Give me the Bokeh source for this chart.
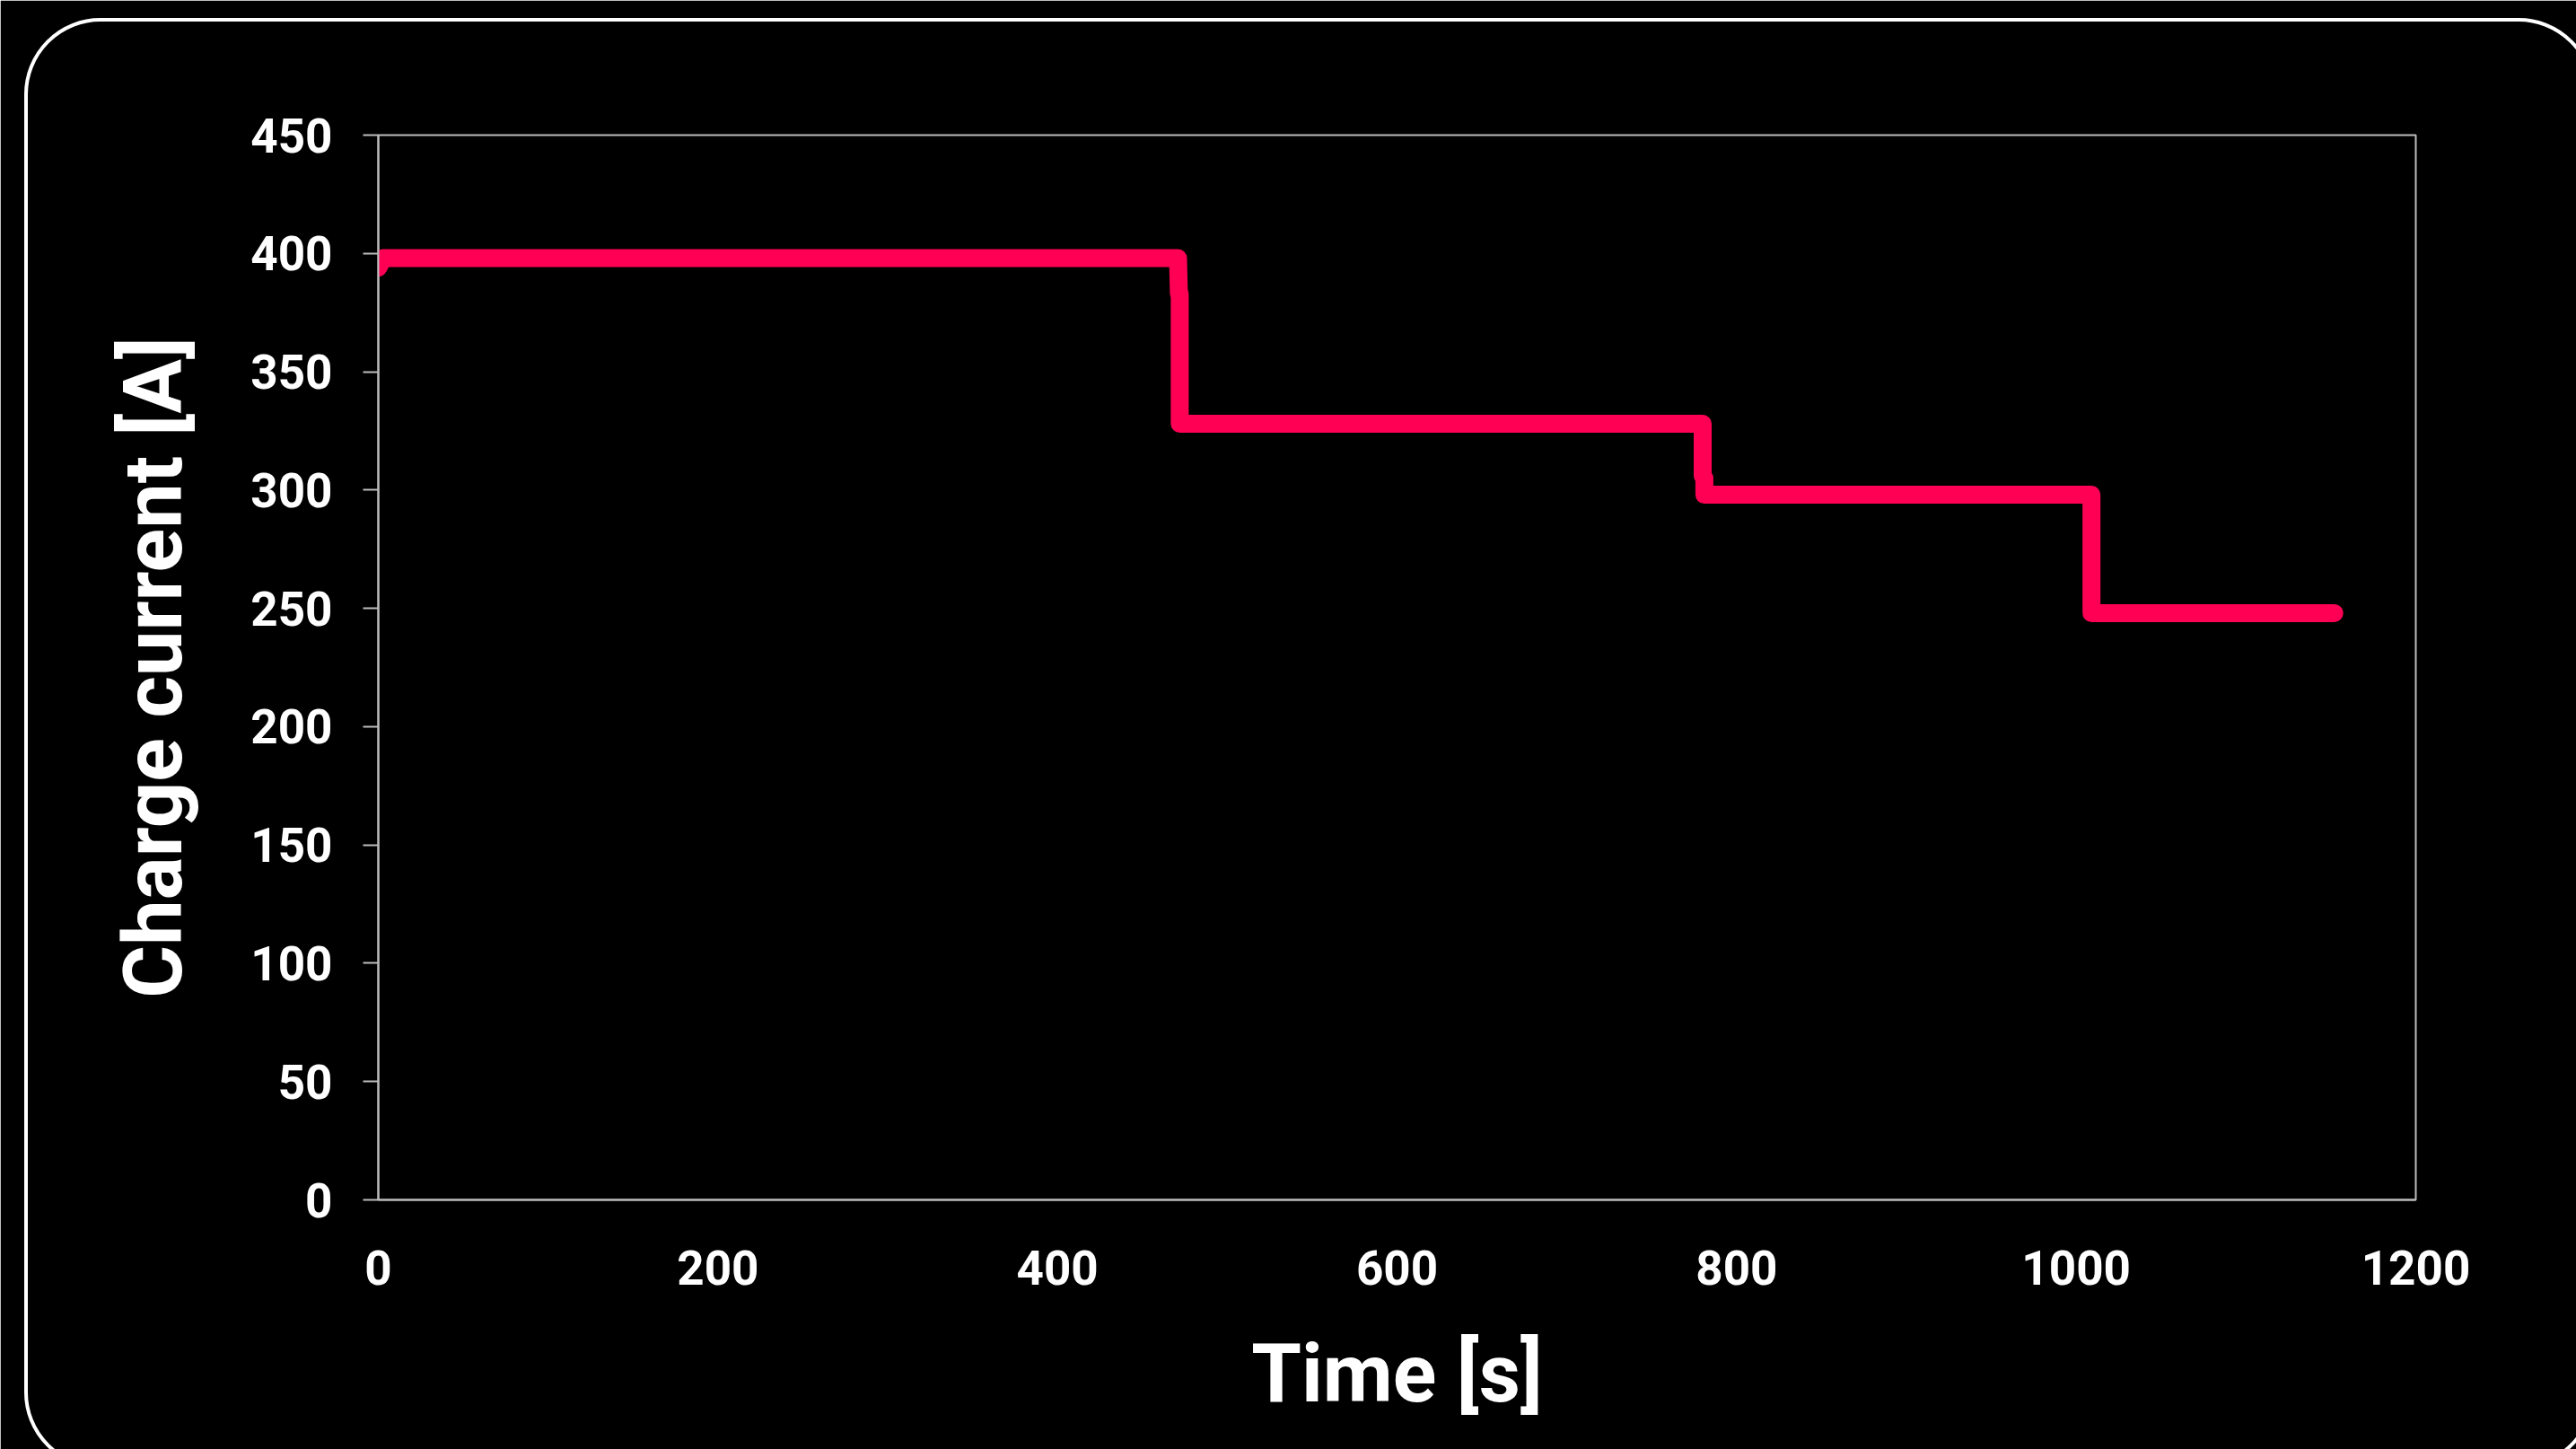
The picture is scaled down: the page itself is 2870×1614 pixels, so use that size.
from bokeh.plotting import figure
from bokeh.models import Range1d, InlineStyleSheet
from bokeh.embed import file_html
from bokeh.resources import INLINE

# Data
time_s = [0, 3, 471, 471.5, 472, 472, 780, 780, 781, 781, 1009, 1009, 1152]
current_a = [394, 398, 398, 383, 383, 328, 328, 306, 305, 298, 298, 248, 248]
x_ticks = [0, 200, 400, 600, 800, 1000, 1200]
y_ticks = [0, 50, 100, 150, 200, 250, 300, 350, 400, 450]

W, H = 2870, 1614
p = figure(width=W, height=H, output_backend="svg", toolbar_location=None,
           x_range=Range1d(0, 1200), y_range=Range1d(0, 450),
           min_border_left=421, min_border_right=179,
           min_border_top=150, min_border_bottom=278)
p.background_fill_color = "black"
p.border_fill_color = "black"
p.outline_line_color = "#bdbdbd"
p.outline_line_width = 2
p.grid.visible = False

p.line(time_s, current_a, line_color="#FF0055", line_width=20,
       line_cap="round", line_join="round")

FONT = "Roboto"
TICK_SIZE = "53px"
TITLE_SIZE = "90px"

xa = p.xaxis[0]
xa.ticker = x_ticks
xa.axis_label = "Time [s]"
xa.axis_line_color = "#bdbdbd"
xa.axis_line_width = 2
xa.major_tick_line_color = None
xa.minor_tick_line_color = None
xa.major_label_standoff = 50
xa.major_label_text_font = FONT
xa.major_label_text_font_size = TICK_SIZE
xa.major_label_text_font_style = "bold"
xa.major_label_text_color = "white"
xa.axis_label_text_font = FONT
xa.axis_label_text_font_size = TITLE_SIZE
xa.axis_label_text_font_style = "bold"
xa.axis_label_text_color = "white"
xa.axis_label_standoff = 44

ya = p.yaxis[0]
ya.ticker = y_ticks
ya.axis_label = "Charge current [A]"
ya.axis_line_color = "#bdbdbd"
ya.axis_line_width = 2
ya.major_tick_line_color = "#bdbdbd"
ya.major_tick_line_width = 2
ya.major_tick_out = 17
ya.major_tick_in = 0
ya.minor_tick_line_color = None
ya.major_label_standoff = 34
ya.major_label_text_font = FONT
ya.major_label_text_font_size = TICK_SIZE
ya.major_label_text_font_style = "bold"
ya.major_label_text_color = "white"
ya.axis_label_text_font = FONT
ya.axis_label_text_font_size = TITLE_SIZE
ya.axis_label_text_font_style = "bold"
ya.axis_label_text_color = "white"
ya.axis_label_standoff = 52

# rounded white frame around the whole card (partly running off the page)
card_css = """
:host { overflow: hidden; }
:host::after {
  content: "";
  position: absolute;
  left: 27px; top: 20px;
  width: 2864px; height: 1616px;
  box-sizing: border-box;
  border: 4px solid white;
  border-radius: 85px;
  pointer-events: none;
  z-index: 10;
}
"""
p.stylesheets = [InlineStyleSheet(css=card_css)]

open("out.html", "w").write(file_html(p, INLINE))
